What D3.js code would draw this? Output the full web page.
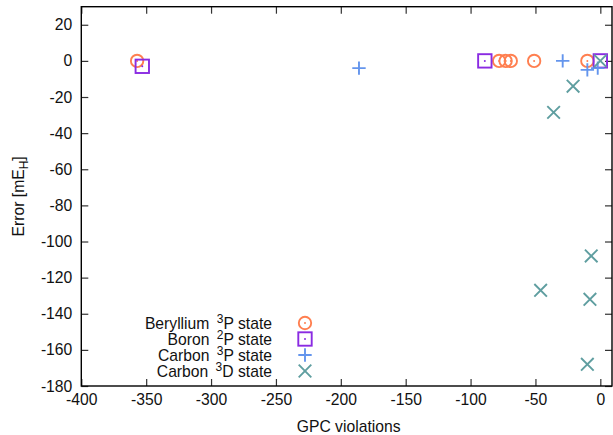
<!DOCTYPE html>
<html>
<head>
<meta charset="utf-8">
<script src="https://cdn.jsdelivr.net/npm/d3@7"></script>
<style>
  html, body { margin: 0; padding: 0; background: #fff; }
  svg { display: block; font-family: "Liberation Sans", Arial, sans-serif; }
</style>
</head>
<body>
<svg id="chart" width="613" height="435"></svg>
<script>
// GPC violations vs. error (mE_H) for each atomic state
const berylliumX = [-357, -78, -73, -69, -51, -10];
const berylliumY = [0, 0, 0, 0, 0, 0];
const boronX = [-353, -89, 0];
const boronY = [-3, 0, 0];
const carbonPX = [-186, -29, -10, -2];
const carbonPY = [-4, 0, -5, -4];
const carbonDX = [0, -21, -36, -7, -46, -8, -10];
const carbonDY = [0, -14, -28.5, -108, -127, -132, -168];

const xTicks = [-400, -350, -300, -250, -200, -150, -100, -50, 0];
const yTicks = [20, 0, -20, -40, -60, -80, -100, -120, -140, -160, -180];

const seriesNames = ["Beryllium", "Boron", "Carbon", "Carbon"];
const seriesSup = ["3", "2", "3", "3"];
const seriesTail = ["P state", "P state", "P state", "D state"];
const seriesColors = ["#ff7f50", "#8a2be2", "#6495ed", "#5f9ea0"];
const seriesShapes = ["circle", "square", "plus", "cross"];

const svg = d3.select("#chart");
const plotL = 81.3, plotR = 612, plotT = 6.7, plotB = 386;

const x = d3.scaleLinear().domain([-400, 9]).range([plotL, plotR]);
const y = d3.scaleLinear().domain([-180, 30]).range([plotB, plotT]);

const tickLen = 7;
const fontSize = 15.7;
const supSize = 12;

// inward ticks on all four sides (mirrored)
const g = svg.append("g");
g.append("g").attr("transform", `translate(0,${plotB})`)
  .call(d3.axisBottom(x).tickValues(xTicks).tickSizeInner(-tickLen).tickSizeOuter(0).tickPadding(8).tickFormat(d3.format("d")));
g.append("g").attr("transform", `translate(0,${plotT})`)
  .call(d3.axisTop(x).tickValues(xTicks).tickSizeInner(-tickLen).tickSizeOuter(0).tickFormat(""));
g.append("g").attr("transform", `translate(${plotL},0)`)
  .call(d3.axisLeft(y).tickValues(yTicks).tickSizeInner(-tickLen).tickSizeOuter(0).tickPadding(9).tickFormat(d3.format("d")));
g.append("g").attr("transform", `translate(${plotR},0)`)
  .call(d3.axisRight(y).tickValues(yTicks).tickSizeInner(-tickLen).tickSizeOuter(0).tickFormat(""));

g.selectAll(".domain").remove();
g.selectAll(".tick line").attr("stroke", "#333").attr("stroke-width", 1.2);
g.selectAll(".tick text").attr("font-size", fontSize).attr("fill", "#111")
  .attr("font-family", "Liberation Sans, Arial, sans-serif")
  .text(function () { return d3.select(this).text().replace("\u2212", "-"); });

// frame
svg.append("rect")
  .attr("x", plotL).attr("y", plotT)
  .attr("width", plotR - plotL).attr("height", plotB - plotT)
  .attr("fill", "none").attr("stroke", "#000").attr("stroke-width", 1.4);

// axis titles
svg.append("text")
  .attr("x", (plotL + plotR) / 2 + 2).attr("y", 432)
  .attr("text-anchor", "middle").attr("font-size", fontSize).attr("fill", "#111")
  .text("GPC violations");

const yl = svg.append("text")
  .attr("transform", `translate(24,${(plotT + plotB) / 2}) rotate(-90)`)
  .attr("text-anchor", "middle").attr("font-size", fontSize).attr("fill", "#111");
yl.append("tspan").text("Error [mE");
yl.append("tspan").attr("font-size", supSize).attr("dy", 4).text("H");
yl.append("tspan").attr("dy", -4).text("]");

// marker drawing
function drawMarker(sel, shape, color) {
  const sw = 1.9;
  if (shape === "circle") {
    sel.append("circle").attr("r", 6.2).attr("fill", "none").attr("stroke", color).attr("stroke-width", sw);
    sel.append("circle").attr("r", 1).attr("fill", color);
  } else if (shape === "square") {
    sel.append("rect").attr("x", -6.7).attr("y", -6.7).attr("width", 13.4).attr("height", 13.4)
      .attr("fill", "none").attr("stroke", color).attr("stroke-width", sw);
    sel.append("circle").attr("r", 1).attr("fill", color);
  } else if (shape === "plus") {
    sel.append("path").attr("d", "M-6.7,0H6.7M0,-6.7V6.7").attr("stroke", color).attr("stroke-width", sw);
  } else {
    sel.append("path").attr("d", "M-6.3,-6.3L6.3,6.3M-6.3,6.3L6.3,-6.3").attr("stroke", color).attr("stroke-width", sw);
  }
}

const series = [
  { xs: berylliumX, ys: berylliumY },
  { xs: boronX, ys: boronY },
  { xs: carbonPX, ys: carbonPY },
  { xs: carbonDX, ys: carbonDY }
];

const plot = svg.append("g");
series.forEach((s, i) => {
  const pts = s.xs.map((v, k) => [v, s.ys[k]]);
  plot.append("g").selectAll("g").data(pts).join("g")
    .attr("transform", d => `translate(${x(d[0])},${y(d[1])})`)
    .each(function () { drawMarker(d3.select(this), seriesShapes[i], seriesColors[i]); });
});

// legend
const legend = svg.append("g");
const legY0 = 323, legStep = 16, legTextX = 272, legSymX = 305;
seriesNames.forEach((name, i) => {
  const yy = legY0 + i * legStep;
  const t = legend.append("text")
    .attr("x", legTextX).attr("y", yy + 5.5)
    .attr("text-anchor", "end").attr("font-size", fontSize).attr("fill", "#111");
  t.append("tspan").text(name + " ");
  t.append("tspan").attr("font-size", supSize).attr("dx", 3).attr("dy", -6).text(seriesSup[i]);
  t.append("tspan").attr("dy", 6).text(seriesTail[i]);
  const m = legend.append("g").attr("transform", `translate(${legSymX},${yy})`);
  drawMarker(m, seriesShapes[i], seriesColors[i]);
});
</script>
</body>
</html>
